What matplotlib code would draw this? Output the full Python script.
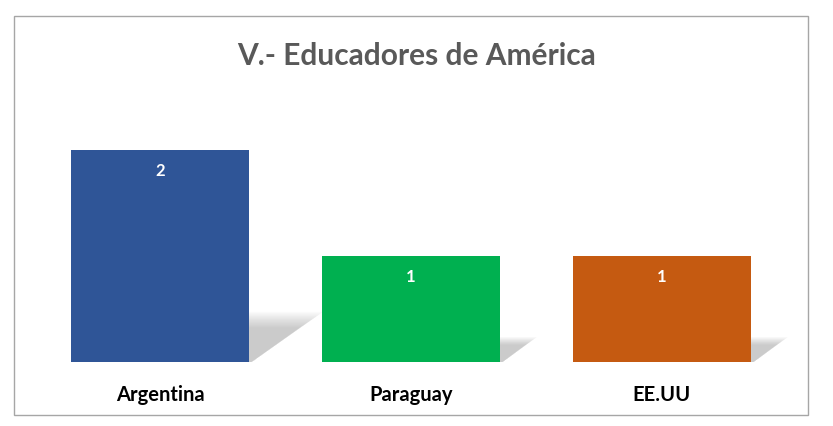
import matplotlib
matplotlib.use("Agg")
import matplotlib.pyplot as plt
from matplotlib.patches import Rectangle, Polygon

# Chart data
countries = ["Argentina", "Paraguay", "EE.UU"]
educators = [2, 1, 1]
bar_colors = ["#2F5597", "#00B050", "#C55A11"]
title_text = "V.- Educadores de América"

plt.rcParams["font.family"] = ["Lato", "DejaVu Sans"]

fig = plt.figure(figsize=(8.33, 4.27), dpi=100)

# outer chart frame
fig.patches.append(Rectangle((14 / 833, 11 / 427), 794 / 833, 399 / 427,
                             transform=fig.transFigure, fill=False,
                             edgecolor="#a6a6a6", linewidth=1))

ax = fig.add_axes([34.5 / 833, 64 / 427, 753 / 833, 263 / 427])
x = list(range(len(countries)))
bar_w = 0.71
bars = ax.bar(x, educators, width=bar_w, color=bar_colors, zorder=3)

# soft perspective shadow behind each bar
for xi, v in zip(x, educators):
    dx = 0.14 * v
    dy = 0.225 * v
    for step in range(12):
        f = 1.05 - step * 0.03
        pts = [(xi - bar_w / 2, 0), (xi + bar_w / 2 + 0.01, 0),
               (xi + bar_w / 2 + dx * f, dy * f), (xi - bar_w / 2 + dx * f, dy * f)]
        ax.add_patch(Polygon(pts, closed=True, facecolor="#8c8c8c",
                             edgecolor="none", alpha=0.045, zorder=2))

for b, v in zip(bars, educators):
    ax.text(b.get_x() + b.get_width() / 2, v - 0.19, str(v), ha="center",
            va="center", color="white", fontsize=12, fontweight="bold", zorder=4)

ax.set_xlim(-0.5, len(countries) - 0.5)
ax.set_ylim(0, 2.481)
ax.set_xticks(x)
ax.set_xticklabels(countries, fontsize=14.5, fontweight="bold", color="black")
ax.tick_params(axis="x", length=0, pad=16)
ax.set_yticks([])
for s in ax.spines.values():
    s.set_visible(False)

fig.text(0.5, 1 - 56 / 427, title_text, ha="center", va="center",
         fontsize=21.5, fontweight="bold", color="#595959")

fig.savefig("out.png", dpi=100)
